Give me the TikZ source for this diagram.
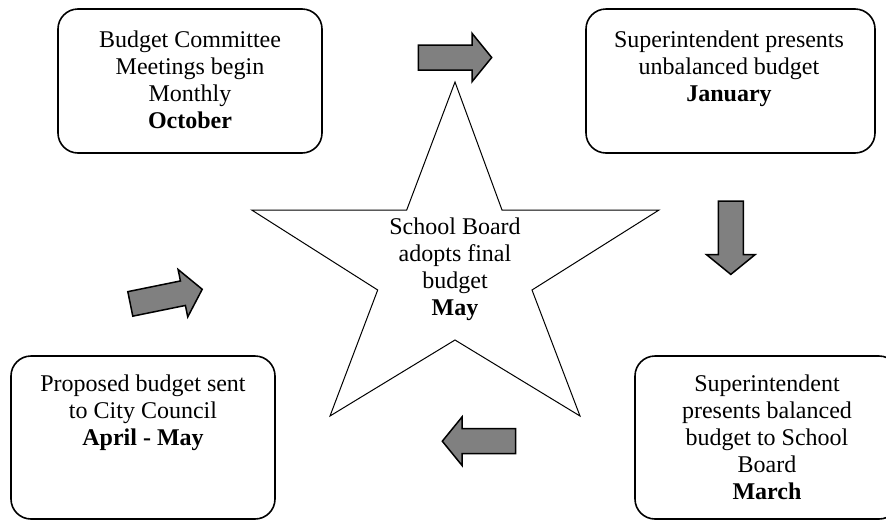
\documentclass[tikz,border=0pt]{standalone}
\usepackage{fontspec}
\setmainfont{Liberation Serif}
\definecolor{arrowgray}{RGB}{128,128,128}
\begin{document}
\begin{tikzpicture}[x=1pt,y=-1pt,
  box/.style={draw, line width=1.6pt, rounded corners=20pt, inner sep=0pt},
  txt/.style={align=center, inner sep=0pt, anchor=north, font=\fontsize{24}{27}\selectfont},
  blockarrow/.style={draw, line width=1.5pt, fill=arrowgray, line join=miter},
  rarrow/.pic={\draw[blockarrow] (0,-12.5) -- (53.7,-12.5) -- (53.7,-24.2) -- (73.4,0) -- (53.7,24.2) -- (53.7,12.5) -- (0,12.5) -- cycle;}]
\useasboundingbox (0,0) rectangle (886,520);
% boxes
\node[box, minimum width=264, minimum height=144] (tl) at (190,81) {};
\node[box, minimum width=289, minimum height=144] (tr) at (730.5,81) {};
\node[box, minimum width=264, minimum height=163] (bl) at (143,437.5) {};
\node[box, minimum width=264, minimum height=163] (br) at (767,437.5) {};
% texts
\node[txt] (tltext) at (190,31) {Budget Committee\\Meetings begin\\Monthly\\\textbf{October}};
\node[txt] (trtext) at (729,31) {Superintendent presents\\unbalanced budget\\\textbf{January}};
\node[txt] (bltext) at (143,375) {Proposed budget sent\\to City Council\\\textbf{April - May}};
\node[txt] (brtext) at (767,375) {Superintendent\\presents balanced\\budget to School\\Board\\\textbf{March}};
% star
\draw[line width=1pt, line join=miter] (455,82) -- (502,210) -- (659,210) -- (532,290) -- (580,416) -- (455,340) -- (330,416) -- (377.7,290) -- (251.7,210) -- (406.7,210) -- cycle;
\node[txt] (startext) at (455,218) {School Board\\adopts final\\budget\\\textbf{May}};
% block arrows
\pic at (418.3,57.5) {rarrow};
\pic[rotate=-90] at (730.8,201) {rarrow};
\pic[rotate=180] at (515.7,441.2) {rarrow};
\pic[rotate=11.5] at (130.3,303.9) {rarrow};
\end{tikzpicture}
\end{document}
